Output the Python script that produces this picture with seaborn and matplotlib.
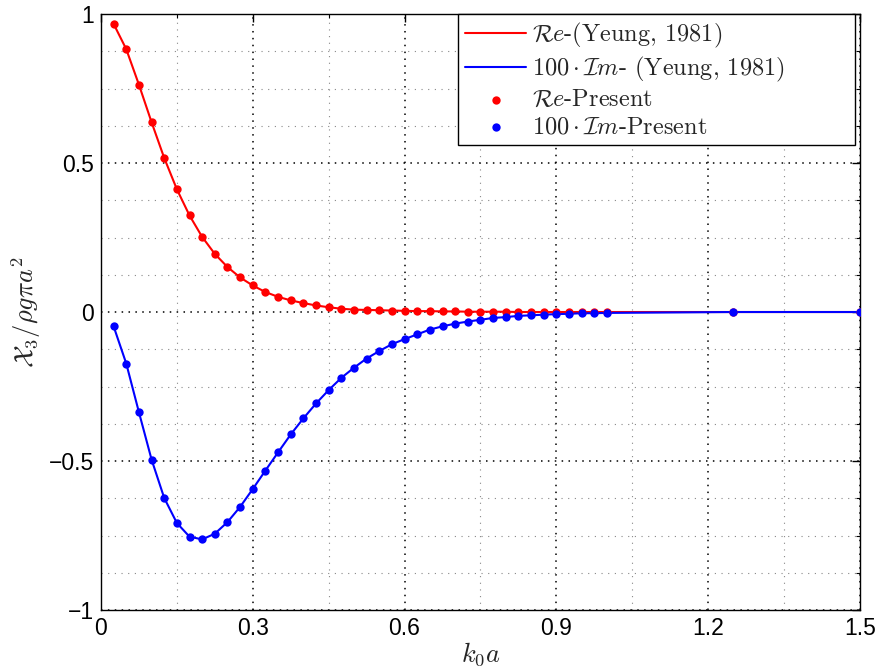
import matplotlib
matplotlib.use("Agg")
import matplotlib.pyplot as plt
import seaborn as sns
import pandas as pd
from matplotlib.ticker import MultipleLocator

# ---- data ----
k0a = [0.025, 0.05, 0.075, 0.10, 0.125, 0.15, 0.175, 0.20, 0.225, 0.25,
       0.275, 0.30, 0.325, 0.35, 0.375, 0.40, 0.425, 0.45, 0.475, 0.50,
       0.525, 0.55, 0.575, 0.60, 0.625, 0.65, 0.675, 0.70, 0.725, 0.75,
       0.775, 0.80, 0.825, 0.85, 0.875, 0.90, 0.925, 0.95, 0.975, 1.00,
       1.25, 1.50]
re_vals = [0.967, 0.882, 0.763, 0.637, 0.517, 0.412, 0.324, 0.252, 0.195, 0.151,
           0.116, 0.089, 0.067, 0.051, 0.039, 0.030, 0.022, 0.016, 0.011, 0.008,
           0.007, 0.006, 0.005, 0.004, 0.003, 0.003, 0.002, 0.002, 0.001, 0.001,
           0.001, 0.001, 0.000, 0.000, 0.000, 0.000, 0.000, 0.000, 0.000, 0.000,
           0.000, 0.000]
im_vals = [-0.048, -0.173, -0.336, -0.495, -0.624, -0.708, -0.754, -0.763, -0.744, -0.705,
           -0.654, -0.594, -0.532, -0.471, -0.411, -0.357, -0.307, -0.262, -0.221, -0.187,
           -0.156, -0.131, -0.108, -0.091, -0.075, -0.059, -0.048, -0.039, -0.032, -0.026,
           -0.020, -0.017, -0.013, -0.011, -0.009, -0.007, -0.006, -0.004, -0.004, -0.003,
           0.000, 0.000]
x_ticks = [0, 0.3, 0.6, 0.9, 1.2, 1.5]
y_ticks = [-1, -0.5, 0, 0.5, 1]
x_tick_labels = ["0", "0.3", "0.6", "0.9", "1.2", "1.5"]
y_tick_labels = ["\u22121", "\u22120.5", "0", "0.5", "1"]

df = pd.DataFrame({"k0a": k0a, "re": re_vals, "im": im_vals})

sns.set_style("white")
plt.rcParams["font.family"] = ["Liberation Sans Narrow", "Liberation Sans", "DejaVu Sans"]
plt.rcParams["mathtext.fontset"] = "cm"

fig = plt.figure(figsize=(8.81, 6.71), dpi=100)
ax = fig.add_axes([0.1146, 0.0909, 0.8615, 0.8882])

sns.lineplot(data=df, x="k0a", y="re", color="#ff0000", lw=1.5, ax=ax,
             label=r"$\mathcal{R}e\text{-(Yeung, 1981)}$", zorder=3)
sns.lineplot(data=df, x="k0a", y="im", color="#0000ff", lw=1.5, ax=ax,
             label=r"$100\cdot\mathcal{I}m\text{- (Yeung, 1981)}$", zorder=3)
sns.scatterplot(data=df, x="k0a", y="re", color="#ff0000", s=36, linewidth=0,
                ax=ax, label=r"$\mathcal{R}e\text{-Present}$", zorder=4)
sns.scatterplot(data=df, x="k0a", y="im", color="#0000ff", s=36, linewidth=0,
                ax=ax, label=r"$100\cdot\mathcal{I}m\text{-Present}$", zorder=5)

ax.set_xlim(0, 1.5)
ax.set_ylim(-1, 1)
ax.set_xticks(x_ticks)
ax.set_xticklabels(x_tick_labels)
ax.set_yticks(y_ticks)
ax.set_yticklabels(y_tick_labels)
ax.xaxis.set_minor_locator(MultipleLocator(0.15))
ax.yaxis.set_minor_locator(MultipleLocator(0.125))
ax.tick_params(which="both", direction="in", top=True, right=True,
               labelsize=16.5, colors="black")
ax.tick_params(which="major", length=6, width=1, pad=5)
ax.tick_params(which="minor", length=3, width=0.8)
ax.grid(which="major", color="black", linestyle=(0, (1, 3.5)), linewidth=1.1)
ax.grid(which="minor", color="#888888", linestyle=(0, (1, 5)), linewidth=0.8)
ax.set_axisbelow(True)
for sp in ax.spines.values():
    sp.set_color("black")
    sp.set_linewidth(1.0)

ax.set_xlabel(r"$k_0a$", fontsize=19, labelpad=0)
ax.set_ylabel(r"$\mathcal{X}_3/\rho g\pi a^2$", fontsize=19, labelpad=4)

leg = ax.legend(loc="upper left", bbox_to_anchor=(0.4704, 0.7785, 0.523, 0.2215),
                mode="expand", fontsize=17.5, frameon=True, fancybox=False,
                borderaxespad=0.0, handlelength=2.5, labelspacing=0.2,
                handletextpad=0.25, borderpad=0.3)
leg.get_frame().set_edgecolor("black")
leg.get_frame().set_linewidth(1.0)
leg.get_frame().set_alpha(1.0)

fig.savefig("out.png", dpi=100, facecolor="white")
